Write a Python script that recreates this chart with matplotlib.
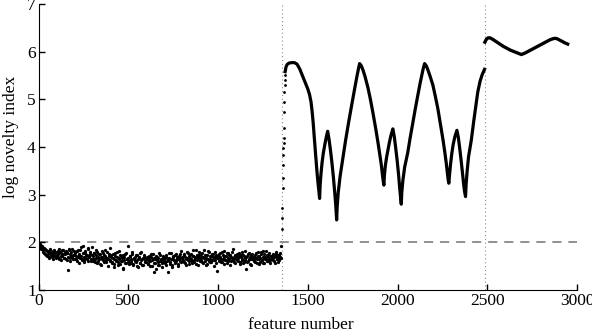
import numpy as np
import matplotlib
matplotlib.use("Agg")
from matplotlib import pyplot as plt

plt.rcParams["font.family"] = ["Liberation Serif", "DejaVu Serif"]

# ! noisy part: two interleaved sets, one value every 5 features each
noise_x = np.arange(1, 1352, 5)
noise_y = [
    1.98, 1.93, 1.95, 1.86, 1.90, 1.80, 1.88, 1.76, 1.84, 1.72, 1.82, 1.79, 1.68, 1.85, 1.74, 1.80, 1.66, 1.83, 1.77, 1.71,
    1.80, 1.69, 1.76, 1.85, 1.64, 1.78, 1.72, 1.83, 1.67, 1.75, 1.81, 1.62, 1.77, 1.42, 1.86, 1.68, 1.79, 1.70, 1.74, 1.82,
    1.66, 1.79, 1.71, 1.60, 1.84, 1.74, 1.68, 1.90, 1.63, 1.77, 1.70, 1.58, 1.81, 1.73, 1.65, 1.88, 1.69, 1.76, 1.61, 1.74,
    1.72, 1.60, 1.78, 1.66, 1.83, 1.57, 1.70, 1.64, 1.76, 1.52, 1.69, 1.81, 1.62, 1.74, 1.67, 1.58, 1.79, 1.65, 1.71, 1.88,
    1.61, 1.73, 1.56, 1.68, 1.48, 1.77, 1.63, 1.70, 1.58, 1.82, 1.66, 1.54, 1.72, 1.60, 1.45, 1.69, 1.75, 1.57, 1.64, 1.92,
    1.67, 1.55, 1.71, 1.60, 1.76, 1.52, 1.65, 1.69, 1.58, 1.74, 1.62, 1.49, 1.68, 1.57, 1.80, 1.64, 1.53, 1.70, 1.61, 1.66,
    1.58, 1.70, 1.54, 1.66, 1.61, 1.75, 1.50, 1.64, 1.38, 1.68, 1.57, 1.72, 1.62, 1.53, 1.77, 1.60, 1.66, 1.48, 1.69, 1.59,
    1.65, 1.56, 1.73, 1.61, 1.38, 1.68, 1.59, 1.77, 1.64, 1.52, 1.70, 1.62, 1.58, 1.75, 1.66, 1.54, 1.71, 1.60, 1.67, 1.81,
    1.69, 1.60, 1.74, 1.57, 1.66, 1.80, 1.63, 1.71, 1.55, 1.68, 1.76, 1.61, 1.72, 1.58, 1.67, 1.83, 1.62, 1.70, 1.53, 1.73,
    1.64, 1.75, 1.59, 1.70, 1.84, 1.61, 1.68, 1.55, 1.73, 1.66, 1.79, 1.58, 1.71, 1.63, 1.76, 1.50, 1.69, 1.62, 1.74, 1.40,
    1.72, 1.61, 1.78, 1.66, 1.58, 1.74, 1.69, 1.82, 1.63, 1.71, 1.56, 1.77, 1.65, 1.73, 1.60, 1.68, 1.85, 1.62, 1.70, 1.57,
    1.65, 1.76, 1.60, 1.71, 1.54, 1.69, 1.80, 1.63, 1.74, 1.58, 1.67, 1.45, 1.72, 1.61, 1.78, 1.66, 1.55, 1.73, 1.64, 1.70,
    1.62, 1.74, 1.68, 1.57, 1.79, 1.65, 1.71, 1.59, 1.76, 1.63, 1.82, 1.56, 1.70, 1.66, 1.74, 1.60, 1.69, 1.77, 1.62, 1.72,
    1.66, 1.75, 1.61, 1.72, 1.79, 1.64, 1.70, 1.58, 1.74, 1.68, 1.93,
]
noise_x2 = np.arange(3, 1354, 5)
noise_y2 = [
    1.94, 1.97, 1.88, 1.92, 1.83, 1.87, 1.78, 1.85, 1.74, 1.81, 1.76, 1.70, 1.84, 1.77, 1.69, 1.82, 1.75, 1.72, 1.79, 1.68,
    1.73, 1.82, 1.66, 1.79, 1.71, 1.62, 1.84, 1.75, 1.68, 1.80, 1.64, 1.77, 1.70, 1.83, 1.61, 1.76, 1.72, 1.85, 1.66, 1.73,
    1.77, 1.64, 1.81, 1.69, 1.75, 1.57, 1.83, 1.71, 1.66, 1.93, 1.62, 1.78, 1.68, 1.74, 1.86, 1.60, 1.72, 1.80, 1.65, 1.90,
    1.65, 1.77, 1.58, 1.73, 1.68, 1.80, 1.61, 1.75, 1.55, 1.70, 1.64, 1.78, 1.59, 1.72, 1.83, 1.62, 1.68, 1.50, 1.76, 1.63,
    1.70, 1.59, 1.76, 1.64, 1.55, 1.72, 1.61, 1.79, 1.52, 1.67, 1.74, 1.60, 1.68, 1.47, 1.73, 1.62, 1.56, 1.78, 1.66, 1.58,
    1.60, 1.72, 1.57, 1.66, 1.79, 1.54, 1.68, 1.61, 1.74, 1.50, 1.65, 1.70, 1.56, 1.77, 1.62, 1.52, 1.67, 1.73, 1.58, 1.64,
    1.66, 1.55, 1.72, 1.60, 1.50, 1.69, 1.63, 1.76, 1.56, 1.65, 1.44, 1.70, 1.59, 1.67, 1.53, 1.74, 1.61, 1.57, 1.71, 1.64,
    1.59, 1.70, 1.53, 1.67, 1.62, 1.78, 1.55, 1.66, 1.48, 1.71, 1.63, 1.57, 1.74, 1.60, 1.69, 1.51, 1.65, 1.76, 1.58, 1.68,
    1.63, 1.75, 1.58, 1.70, 1.52, 1.67, 1.78, 1.61, 1.73, 1.65, 1.56, 1.71, 1.84, 1.62, 1.69, 1.55, 1.74, 1.64, 1.79, 1.60,
    1.70, 1.62, 1.77, 1.57, 1.68, 1.74, 1.53, 1.66, 1.81, 1.60, 1.72, 1.64, 1.58, 1.75, 1.69, 1.62, 1.80, 1.56, 1.67, 1.71,
    1.64, 1.75, 1.69, 1.59, 1.80, 1.66, 1.55, 1.72, 1.63, 1.77, 1.68, 1.60, 1.74, 1.52, 1.70, 1.79, 1.64, 1.58, 1.73, 1.67,
    1.71, 1.62, 1.68, 1.78, 1.59, 1.74, 1.65, 1.56, 1.72, 1.81, 1.63, 1.69, 1.58, 1.76, 1.64, 1.70, 1.53, 1.75, 1.67, 1.61,
    1.69, 1.58, 1.77, 1.64, 1.72, 1.55, 1.68, 1.80, 1.62, 1.70, 1.57, 1.75, 1.64, 1.81, 1.60, 1.73, 1.66, 1.56, 1.71, 1.65,
    1.72, 1.63, 1.69, 1.57, 1.76, 1.66, 1.73, 1.62, 1.70, 1.78, 1.67,
]

# * the jump right after the first break
rise_x = np.arange(1357, 1374)
rise_y = [2.29, 2.50, 2.71, 3.13, 3.34, 3.62, 3.83, 3.97, 4.08, 4.18, 4.39, 4.74, 4.95, 5.16, 5.30, 5.40, 5.51]

# * the arches between the two breaks
arch_x = [1374, 1379, 1385, 1395, 1410, 1425, 1440, 1455, 1470, 1485, 1500, 1510, 1518, 1524, 1530, 1536, 1543, 1551, 1557, 1562, 1566,
          1569, 1574, 1580, 1587, 1596, 1604, 1611, 1619, 1627, 1635, 1643, 1650, 1656, 1661,
          1664, 1670, 1680, 1697, 1710, 1726, 1740, 1753, 1765, 1775, 1783, 1789,
          1799, 1809, 1819, 1835, 1849, 1863, 1878, 1891, 1901, 1910, 1916, 1920, 1924,
          1927, 1932, 1939, 1946, 1955, 1964, 1974, 1982, 1990, 1998, 2006, 2012, 2017, 2021,
          2024, 2030, 2040, 2057, 2070, 2086, 2100, 2113, 2125, 2135, 2143, 2151,
          2161, 2171, 2182, 2197, 2211, 2225, 2240, 2254, 2264, 2272, 2278, 2282, 2286,
          2290, 2295, 2302, 2310, 2320, 2331, 2339, 2347, 2355, 2363, 2369, 2374, 2379,
          2382, 2388, 2396, 2411, 2425, 2436, 2447, 2460, 2472, 2485]
arch_y = [5.58, 5.68, 5.73, 5.76, 5.77, 5.77, 5.74, 5.64, 5.50, 5.36, 5.22, 5.10, 4.95, 4.76, 4.52, 4.22, 3.88, 3.50, 3.25, 3.08, 2.92,
          3.20, 3.45, 3.68, 3.88, 4.07, 4.22, 4.33, 4.15, 3.92, 3.66, 3.36, 3.06, 2.78, 2.47,
          2.75, 3.05, 3.38, 3.80, 4.12, 4.48, 4.78, 5.05, 5.30, 5.50, 5.65, 5.75,
          5.70, 5.60, 5.48, 5.25, 5.00, 4.72, 4.40, 4.10, 3.85, 3.62, 3.42, 3.30, 3.20,
          3.40, 3.60, 3.78, 3.92, 4.10, 4.25, 4.38, 4.22, 3.98, 3.72, 3.42, 3.15, 2.95, 2.80,
          3.05, 3.30, 3.58, 3.88, 4.18, 4.52, 4.82, 5.08, 5.32, 5.50, 5.64, 5.75,
          5.70, 5.60, 5.48, 5.30, 5.06, 4.80, 4.46, 4.14, 3.88, 3.65, 3.45, 3.32, 3.24,
          3.42, 3.62, 3.85, 4.05, 4.22, 4.35, 4.20, 3.96, 3.70, 3.42, 3.20, 3.06, 2.96,
          3.20, 3.50, 3.80, 4.14, 4.55, 4.85, 5.15, 5.38, 5.52, 5.63]

# * the last part, after the second break
tail_x = [2487, 2495, 2505, 2515, 2530, 2550, 2570, 2590, 2610, 2630, 2650, 2670, 2690,
          2710, 2730, 2750, 2770, 2790, 2810, 2830, 2850, 2865, 2878, 2890, 2905, 2920, 2935, 2948]
tail_y = [6.20, 6.26, 6.29, 6.29, 6.26, 6.21, 6.16, 6.11, 6.07, 6.03, 6.00, 5.97, 5.94,
          5.97, 6.01, 6.05, 6.09, 6.13, 6.17, 6.21, 6.25, 6.27, 6.28, 6.27, 6.24, 6.21, 6.18, 6.16]

breaks = [1357, 2485]
threshold = 2.0

fig = plt.figure(figsize=(5.92, 3.34), dpi=100)
ax = fig.add_axes([38.5 / 592, 44 / 334, 538.5 / 592, 286 / 334])

ax.axhline(threshold, color="0.45", lw=1.1, ls=(0, (6, 4.5)), zorder=1)
for b in breaks:
    ax.axvline(b, color="0.55", lw=0.8, ls=(0, (1, 2.5)), zorder=1)

ax.scatter(noise_x, noise_y, s=5.5, c="k", linewidths=0, zorder=3)
ax.scatter(noise_x2, noise_y2, s=5.5, c="k", linewidths=0, zorder=3)
ax.scatter(rise_x, rise_y, s=4, c="k", linewidths=0, zorder=3)
ax.plot(arch_x, arch_y, color="k", lw=2.3, zorder=3)
ax.plot(tail_x, tail_y, color="k", lw=2.4, zorder=3)

ax.set_xlim(0, 3000)
ax.set_ylim(1, 7)
ax.set_xticks(range(0, 3001, 500))
ax.set_yticks(range(1, 8))
ax.spines["top"].set_visible(False)
ax.spines["right"].set_visible(False)
ax.tick_params(direction="in", length=4, width=1, labelsize=12.5, pad=2)

ax.set_xlabel("feature number", fontsize=12.5)
ax.set_ylabel("log novelty index", fontsize=12.5)
# ! nudge the labels to where they sit in the original
ax.xaxis.set_label_coords(0.488, -0.094)
ax.yaxis.set_label_coords(-0.037, 0.535)

plt.savefig("out.png", dpi=100)
